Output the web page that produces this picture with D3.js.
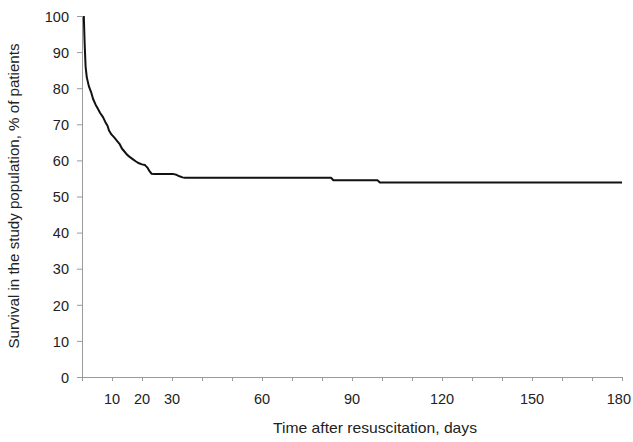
<!DOCTYPE html>
<html>
<head>
<meta charset="utf-8">
<script src="https://cdn.jsdelivr.net/npm/d3@7"></script>
<style>
  body { margin: 0; background: #fff; }
  svg { display: block; font-family: "Liberation Sans", Arial, sans-serif; }
  .tick-label { font-size: 14.5px; fill: #222; }
  .axis-title { font-size: 14.5px; fill: #222; }
</style>
</head>
<body>
<div id="chart"></div>
<script>
// survival curve
const days = [0.6, 0.9, 1.2, 1.6, 2.3, 3.0, 3.7, 4.5, 5.3, 6.0, 7.0, 7.8, 8.5, 9.0, 9.8,
  10.8, 11.8, 12.5, 13.3, 14.0, 15.0, 16.0, 17.0, 18.0, 19.0, 20.0, 21.0, 21.8, 22.5,
  23.2, 24.0, 30.5, 31.5, 32.5, 33.5, 34.3, 83.0, 83.8, 98.5, 99.3, 180];
const survival = [100, 92, 86, 83, 80.5, 79, 77, 75.5, 74.3, 73.2, 72, 70.6, 69.6, 68.3, 67.2,
  66.3, 65.3, 64.6, 63.3, 62.6, 61.6, 60.9, 60.3, 59.7, 59.2, 58.9, 58.7, 58.0, 57.0,
  56.3, 56.2, 56.2, 56.0, 55.6, 55.3, 55.2, 55.2, 54.5, 54.5, 53.9, 53.9];

const xTicks = [0, 10, 20, 30, 40, 50, 60, 70, 80, 90, 100, 110, 120, 130, 140, 150, 160, 170, 180];
const xLabels = [10, 20, 30, 60, 90, 120, 150, 180];
const yTicks = [0, 10, 20, 30, 40, 50, 60, 70, 80, 90, 100];

const xTitle = 'Time after resuscitation, days';
const yTitle = 'Survival in the study population, % of patients';

const width = 633, height = 442;
const margin = { left: 82, right: 11, top: 16, bottom: 65 };

const svg = d3.select('#chart').append('svg')
  .attr('width', width)
  .attr('height', height);

const x = d3.scaleLinear().domain([0, 180]).range([margin.left, width - margin.right]);
const y = d3.scaleLinear().domain([0, 100]).range([height - margin.bottom, margin.top]);

const axisColor = '#9a9a9a';

// x axis
const gx = svg.append('g')
  .attr('transform', `translate(0,${y(0)})`)
  .call(d3.axisBottom(x).tickValues(xTicks).tickSize(4).tickSizeOuter(0).tickFormat(''));
gx.select('.domain').attr('stroke', axisColor);
gx.selectAll('.tick line').attr('stroke', axisColor);

// the last label sits against the right edge, so it is pulled in a bit
svg.append('g').selectAll('text')
  .data(xLabels)
  .enter()
  .append('text')
  .attr('class', 'tick-label')
  .attr('x', (d, i) => i === xLabels.length - 1 ? x(d) + 9 : x(d))
  .attr('y', y(0) + 27)
  .attr('text-anchor', (d, i) => i === xLabels.length - 1 ? 'end' : 'middle')
  .text(d => d);

// y axis
const gy = svg.append('g')
  .attr('transform', `translate(${x(0)},0)`)
  .call(d3.axisLeft(y).tickValues(yTicks).tickSize(5).tickSizeOuter(0).tickPadding(8));
gy.select('.domain').attr('stroke', axisColor);
gy.selectAll('.tick line').attr('stroke', axisColor);
gy.selectAll('.tick text')
  .attr('class', 'tick-label')
  .attr('fill', null)
  .attr('dy', '0.36em');
gy.attr('font-size', null).attr('font-family', null);
gx.attr('font-size', null).attr('font-family', null);

// axis titles
svg.append('text')
  .attr('class', 'axis-title')
  .attr('x', 375)
  .attr('y', 433)
  .attr('text-anchor', 'middle')
  .attr('textLength', 204)
  .attr('lengthAdjust', 'spacingAndGlyphs')
  .text(xTitle);

svg.append('text')
  .attr('class', 'axis-title')
  .attr('transform', `translate(19,196) rotate(-90)`)
  .attr('text-anchor', 'middle')
  .attr('textLength', 305)
  .attr('lengthAdjust', 'spacingAndGlyphs')
  .text(yTitle);

// survival line
const points = days.map((d, i) => ({ day: d, value: survival[i] }));
svg.append('path')
  .datum(points)
  .attr('fill', 'none')
  .attr('stroke', '#111')
  .attr('stroke-width', 2)
  .attr('stroke-linejoin', 'round')
  .attr('d', d3.line().x(d => x(d.day)).y(d => y(d.value)));
</script>
</body>
</html>
